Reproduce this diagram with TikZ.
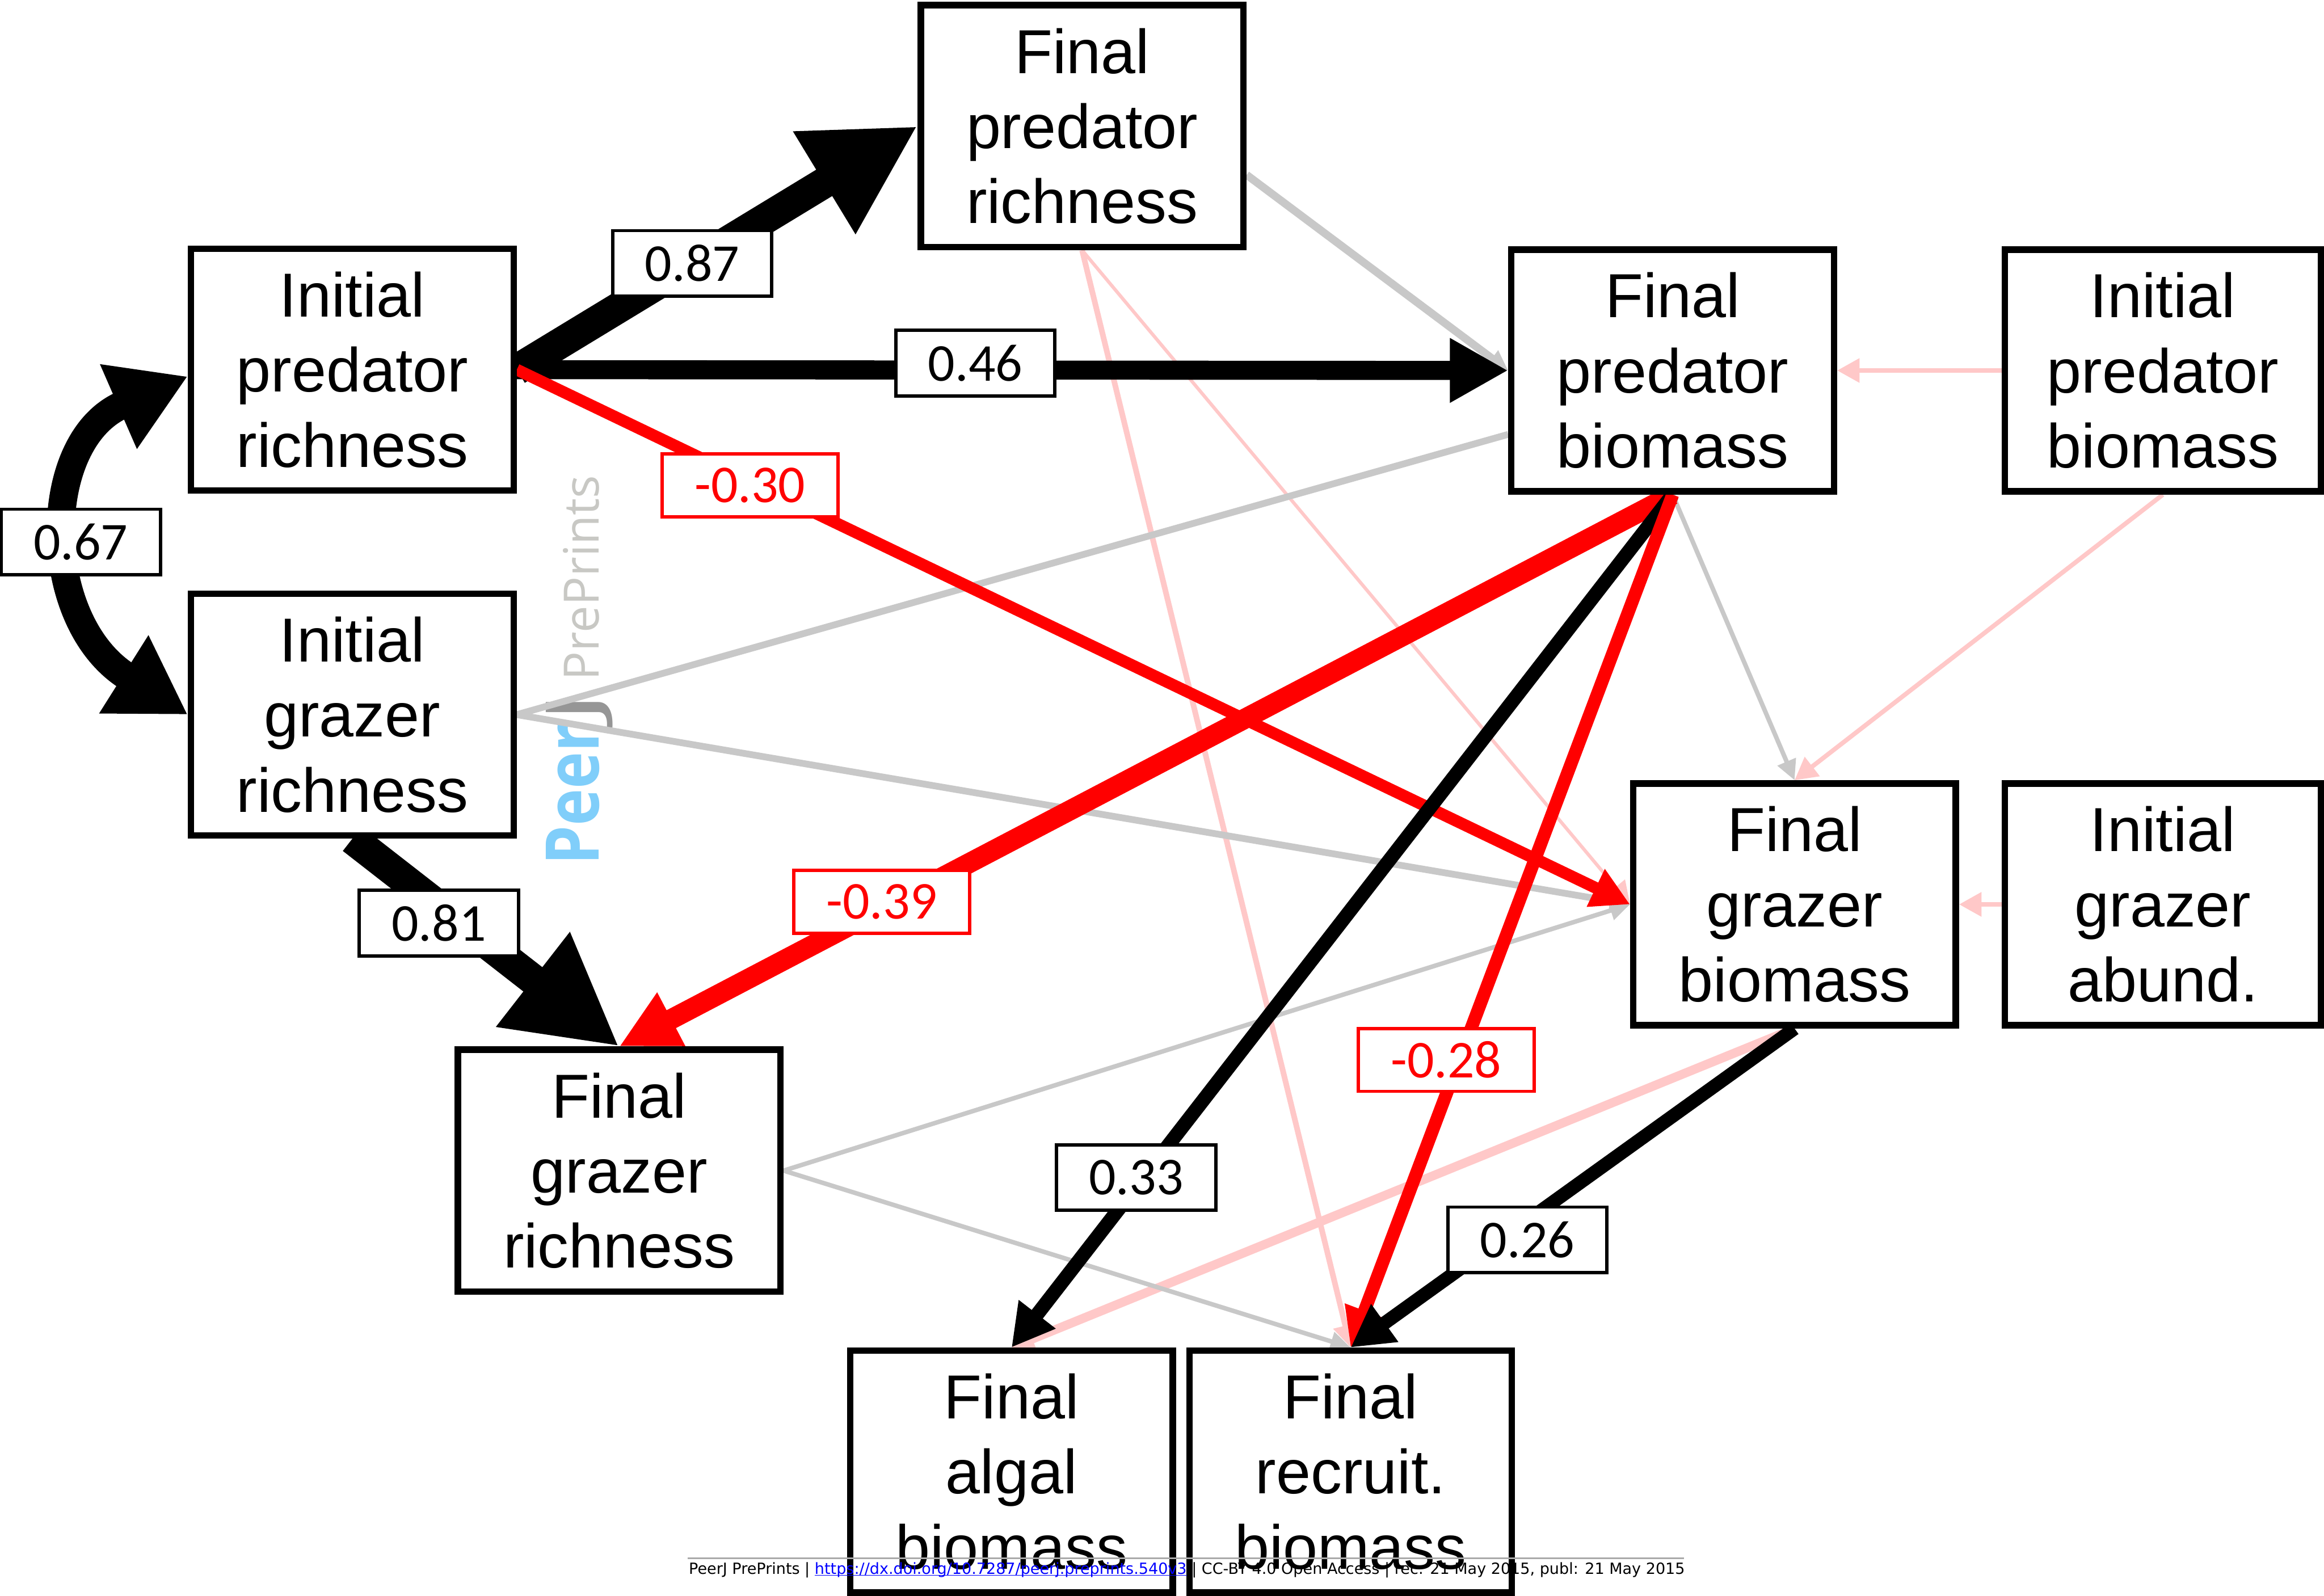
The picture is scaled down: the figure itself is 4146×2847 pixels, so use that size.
\documentclass[tikz,border=0pt]{standalone}
\usepackage{graphicx}
\usepackage{fontspec}
\setmainfont{Liberation Sans}
\newfontfamily\lblfont{Carlito}
\newfontfamily\wmfont{Open Sans}
\newfontfamily\footfont{DejaVu Sans}
\usetikzlibrary{arrows.meta,calc}
\definecolor{lgray}{RGB}{200,200,200}
\definecolor{lpink}{RGB}{255,200,200}
\definecolor{wblue}{RGB}{128,206,250}
\definecolor{wgray}{RGB}{150,150,150}
\definecolor{wlight}{RGB}{200,200,196}
\definecolor{linkblue}{RGB}{0,0,255}
\definecolor{rulegray}{RGB}{170,170,170}
\newcommand\linkul[1]{\setbox0\hbox{#1}\rlap{\rule[-0.32pt]{\wd0}{0.13pt}}\box0}
\pgfdeclarelayer{wm}
\pgfdeclarelayer{edges}
\pgfsetlayers{wm,edges,main}
\begin{document}
\begin{tikzpicture}[x=0.1pt,y=-0.1pt,
  box/.style={draw, line width=1.15pt, fill=white, minimum width=57.55pt, minimum height=43.15pt,
    inner sep=0pt, align=center, font=\fontsize{11.1pt}{13.4pt}\selectfont},
  nbox/.style={box, minimum width=56.35pt},
  lbl/.style={draw, line width=0.6pt, fill=white, minimum width=28.4pt, minimum height=11.7pt,
    inner sep=0pt, font=\lblfont\fontsize{9.5pt}{10pt}\selectfont},
  rlbl/.style={lbl, draw=red, text=red, minimum width=31.4pt, minimum height=11.2pt},
  grayl/.style={draw=lgray, -{Triangle[length=3.6pt,width=3.4pt]}},
  pinkl/.style={draw=lpink, -{Triangle[length=4pt,width=4.2pt]}},
  bigtip/.style={-{Triangle[length=19.5pt,width=20pt]}}
]
\useasboundingbox (0,0) rectangle (4146,2847);
\begin{pgfonlayer}{wm}
  \fill[white] (0,0) rectangle (4146,2847);
  \node[rotate=90, anchor=base west, inner sep=0pt] (wmark) at (1068,1545)
    {\wmfont\fontsize{13.2pt}{13.5pt}\selectfont\resizebox{25.2pt}{\height}{\bfseries\color{wblue}Peer}\resizebox{5.8pt}{\height}{\color{wgray}J}\hspace{1.9pt}\resizebox{36.6pt}{\height}{\fontsize{8.7pt}{9pt}\selectfont\color{wlight}PrePrints}};
\end{pgfonlayer}

% boxes
\node[box] (IPR) at (628.5,659.5) {Initial\\predator\\richness};
\node[box] (IGR) at (628.5,1275) {Initial\\grazer\\richness};
\node[box] (FPR) at (1930.5,225) {Final\\predator\\richness};
\node[box] (FPB) at (2984,661) {Final\\predator\\biomass};
\node[nbox] (IPB) at (3858.5,661) {Initial\\predator\\biomass};
\node[box] (FGB) at (3201.5,1613.5) {Final\\grazer\\biomass};
\node[nbox] (IGA) at (3858.5,1613.5) {Initial\\grazer\\abund.};
\node[box] (FGR) at (1104.5,2088.5) {Final\\grazer\\richness};
\node[box] (FAB) at (1804.5,2625.5) {Final\\algal\\biomass};
\node[box] (FRB) at (2409.5,2625.5) {Final\\recruit.\\biomass};

\begin{pgfonlayer}{edges}
  % pink (weak negative)
  \draw[pinkl, line width=0.8pt] (IPB.west) -- (FPB.east);
  \draw[pinkl, line width=0.8pt] (IPB.south) -- (FGB.north);
  \draw[pinkl, line width=0.8pt] (IGA.west) -- (FGB.east);
  \draw[pinkl, line width=0.6pt] (FPR.south) -- (FGB.west);
  \draw[pinkl, line width=1.0pt] (FPR.south) -- (FRB.north);
  \draw[pinkl, line width=1.6pt] (FGB.south) -- (FAB.north);
  % gray (weak positive)
  \draw[grayl, line width=1.4pt] ($(FPR.east)+(0,87)$) -- (FPB.west);
  \draw[draw=lgray, line width=1.2pt] (IGR.east) -- ($(FPB.west)+(0,114)$);
  \draw[grayl, line width=1.2pt] (IGR.east) -- (FGB.west);
  \draw[grayl, line width=0.8pt] (FGR.east) -- (FGB.west);
  \draw[grayl, line width=0.8pt] (FGR.east) -- (FRB.north);
  \draw[grayl, line width=0.8pt] (FPB.south) -- (FGB.north);
  % strong paths
  \draw[line width=5.5pt, bigtip] (IPR.east) -- (FPR.west);
  \draw[line width=3.4pt, -{Triangle[length=10.4pt,width=10.8pt]}] (IPR.east) -- (FPB.west);
  \draw[red, line width=2.1pt, -{Triangle[length=6.8pt,width=7pt]}] (IPR.east) -- (FGB.west);
  \draw[line width=5pt, {Triangle[length=13.5pt,width=15.5pt]}-{Triangle[length=13.5pt,width=15.5pt]}]
    ($(IPR.west)+(0,12)$) .. controls (70,787) and (70,1108) .. (IGR.west);
  \draw[line width=5.5pt, bigtip] (IGR.south) -- (FGR.north);
  \draw[red, line width=3.6pt, -{Triangle[length=10.5pt,width=10pt]}] (FPB.south) -- (FGR.north);
  \draw[line width=2.5pt, -{Triangle[length=7.5pt,width=7.8pt]}] (FPB.south) -- (FAB.north);
  \draw[red, line width=2.3pt, -{Triangle[length=7pt,width=7pt]}] (FPB.south) -- (FRB.north);
  \draw[line width=2.4pt, -{Triangle[length=7.5pt,width=7.8pt]}] (FGB.south) -- (FRB.north);
\end{pgfonlayer}

% coefficient labels
\node[lbl] (l067) at (144,967) {0.67};
\node[lbl] (l087) at (1235,470) {0.87};
\node[lbl] (l046) at (1740,648) {0.46};
\node[rlbl] (l030) at (1338,866) {-0.30};
\node[lbl] (l081) at (783,1647) {0.81};
\node[rlbl] (l039) at (1573,1609) {-0.39};
\node[lbl] (l033) at (2027,2101) {0.33};
\node[rlbl] (l028) at (2580,1891) {-0.28};
\node[lbl] (l026) at (2725,2212) {0.26};

% footer
\draw[rulegray, line width=0.3pt] (1227,2780) -- (3004,2780);
\node[anchor=base west, inner sep=0pt] (foot) at (1227,2808)
  {\resizebox{177.7pt}{\height}{\footfont\fontsize{2.75pt}{3pt}\selectfont PeerJ PrePrints | {\color{linkblue}\linkul{https://dx.doi.org/10.7287/peerj.preprints.540v3}} | CC-BY 4.0 Open Access | rec: 21 May 2015, publ: 21 May 2015}};
\end{tikzpicture}
\end{document}
